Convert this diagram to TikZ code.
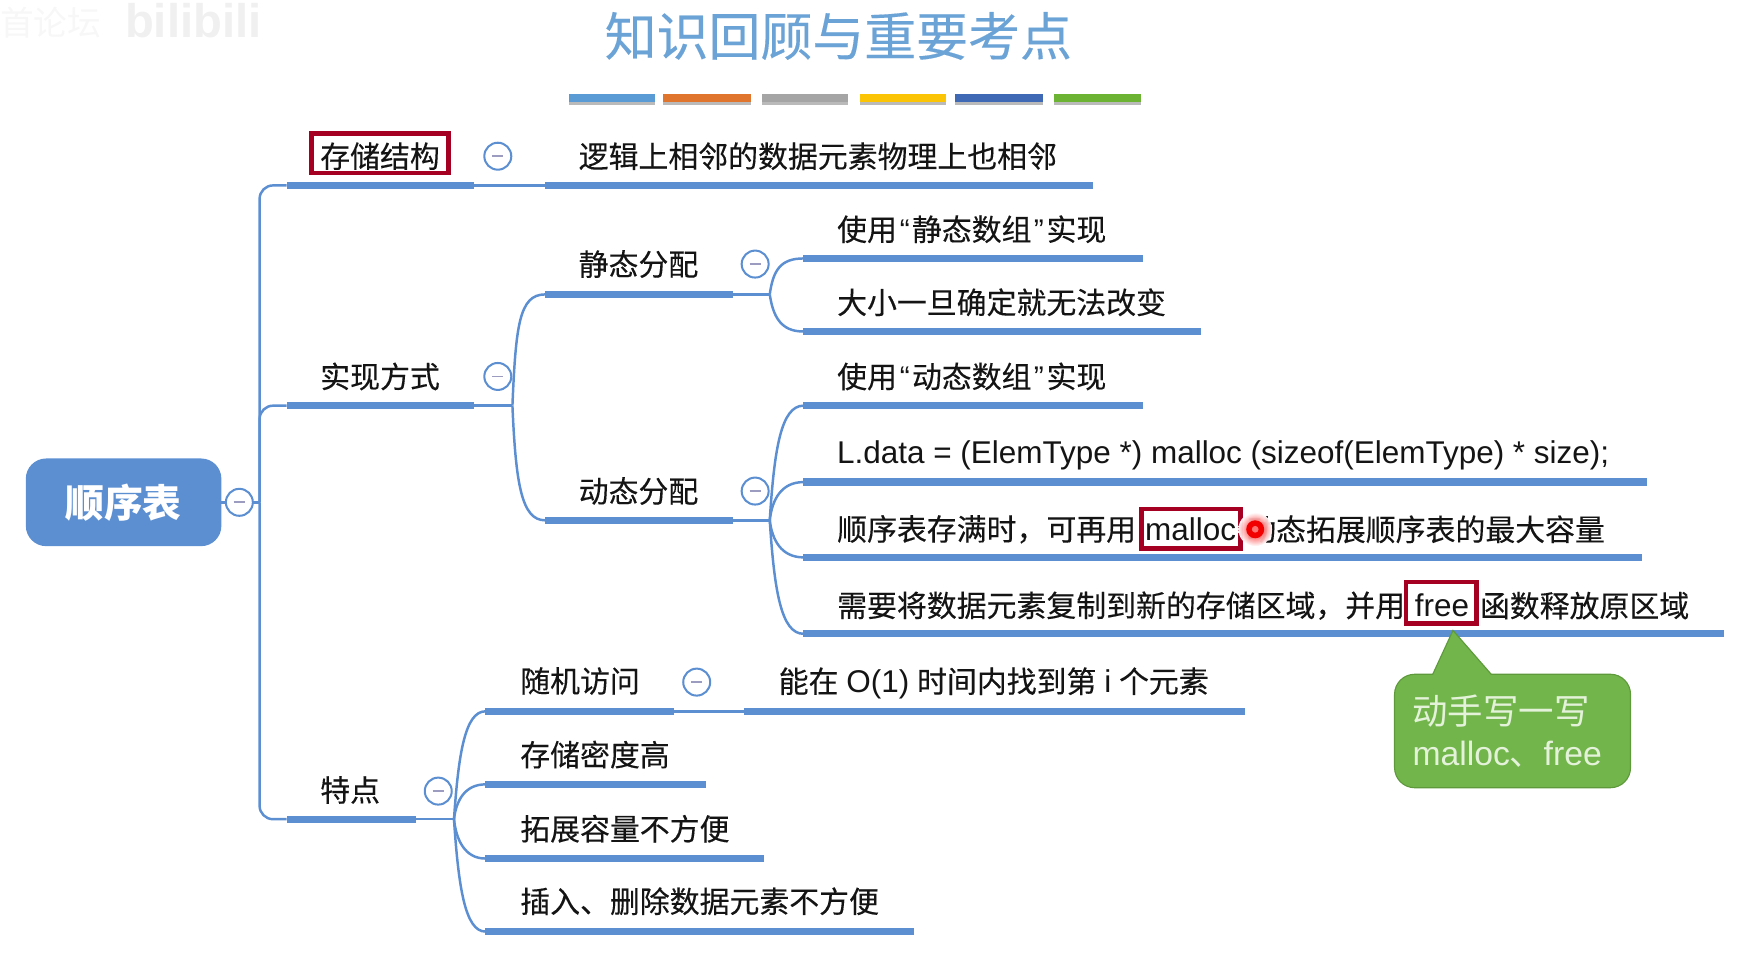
\documentclass[tikz,border=0pt]{standalone}
\usepackage{fontspec}
\setmainfont{Noto Sans CJK SC}
\newfontfamily\emb[FakeBold=0.25]{Noto Sans CJK SC}
\newfontfamily\lat{Liberation Sans}
\usetikzlibrary{shadows,calc,shapes.misc}
\definecolor{mapblue}{HTML}{5B8FD2}
\definecolor{titleblue}{HTML}{6BA3D6}
\definecolor{boxred}{HTML}{A50021}
\definecolor{callgreen}{HTML}{72B54B}
\definecolor{callline}{HTML}{5E9A3C}
\definecolor{callfg}{HTML}{E4F2DA}
\definecolor{minusgrey}{HTML}{9C9CC0}
\definecolor{tone}{HTML}{5B9BD5}
\definecolor{ttwo}{HTML}{E0762E}
\definecolor{tthree}{HTML}{A5A5A5}
\definecolor{tfour}{HTML}{FBC405}
\definecolor{tfive}{HTML}{3F69B5}
\definecolor{tsix}{HTML}{6CB334}
\newcommand{\latsz}{\lat\fontsize{28}{28}\selectfont}
\tikzset{
  x=1pt,y=-1pt,
  lab/.style={anchor=west,inner sep=0pt,outer sep=0pt,font=\emb\fontsize{26.6}{26.6}\selectfont,text=black!92},
  callab/.style={anchor=west,inner sep=0pt,outer sep=0pt,text=callfg},
  barbox/.style={fill=mapblue,draw=none,inner sep=0pt,outer sep=0pt,minimum height=6.5pt},
  tile/.style={fill=#1,draw=none,inner sep=0pt,outer sep=0pt,minimum height=7.5pt,minimum width=77pt,
     drop shadow={shadow xshift=0pt,shadow yshift=-3pt,fill=black!45,opacity=.6}},
  link/.style={draw=mapblue,line width=2.2pt},
  redbox/.style={draw=boxred,line width=4pt,fill=none,inner sep=0pt,outer sep=0pt},
  collapse/.style={circle,draw=mapblue,fill=white,line width=1.8pt,minimum size=24pt,inner sep=0pt,outer sep=0pt},
}
\newcommand{\mapbar}[4]{\node[barbox,minimum width={#3-#2}] (#1) at ({(#2+#3)/2},#4) {};}
\newcommand{\collapser}[3]{\node[collapse] (#1) at (#2,#3) {};
  \draw[minusgrey,line width=1.6pt] ($(#1.center)+(-5,0)$) -- ($(#1.center)+(5,0)$);}
\newcommand{\openq}{\kern2.5pt{\lat “}\kern2pt}
\newcommand{\closeq}{\kern2pt{\lat ”}\kern2.5pt}
\begin{document}
\begin{tikzpicture}
\useasboundingbox (0,0) rectangle (1568,851.6);
% watermark
\node[inner sep=0pt,text=black!3,font=\fontsize{30}{30}\selectfont] (wmA) at (45,20) {首论坛};
\node[inner sep=0pt,text=black!6,font=\lat\bfseries\fontsize{42}{42}\selectfont] (wmB) at (172,18) {bilibili};
% title
\node[inner sep=0pt,text=titleblue,font=\emb\fontsize{46.2}{46.2}\selectfont] (title) at (746,32) {知识回顾与重要考点};
\node[tile=tone]  (t1) at (544.5,87) {};
\node[tile=ttwo,minimum width=78pt]  (t2) at (629,87) {};
\node[tile=tthree] (t3) at (716.5,87) {};
\node[tile=tfour] (t4) at (803.5,87) {};
\node[tile=tfive,minimum width=78pt] (t5) at (889,87) {};
\node[tile=tsix]  (t6) at (976.5,87) {};
% bars
\mapbar{bStore}{255}{422}{165}
\mapbar{bImpl}{255}{422}{361}
\mapbar{bFeat}{255}{370}{729}
\mapbar{bLogic}{485}{973}{165}
\mapbar{bStatic}{485}{652}{262}
\mapbar{bDyn}{485}{652}{463}
\mapbar{bS1}{715}{1017}{230}
\mapbar{bS2}{715}{1069}{295}
\mapbar{bD1}{715}{1017}{361}
\mapbar{bD2}{715}{1466}{429}
\mapbar{bD3}{715}{1461}{496}
\mapbar{bD4}{715}{1534}{564}
\mapbar{bRand}{432}{600}{633}
\mapbar{bRandT}{662}{1108}{633}
\mapbar{bF2}{432}{628}{698}
\mapbar{bF3}{432}{680}{764}
\mapbar{bF4}{432}{813}{829}
% root
\node[fill=mapblue,rounded corners=18pt,minimum width=174pt,minimum height=78pt,inner sep=0pt,outer sep=0pt,text=white,font=\bfseries\fontsize{34.5}{34.5}\selectfont] (root) at (110,447) {顺序表};
% hubs
\coordinate (hTrunk) at (231,447);
\coordinate (hImpl) at (456,361);
\coordinate (hStatic) at (685,262);
\coordinate (hDyn) at (685,463);
\coordinate (hFeat) at (404,729);
% connectors
\draw[link] (root.east) -- (hTrunk);
\draw[link,rounded corners=12pt] (bStore.west) -| (hTrunk);
\draw[link,rounded corners=12pt] (bFeat.west) -| (hTrunk);
\draw[link,rounded corners=12pt] (bImpl.west) -| (hTrunk);
\draw[link] (bStore.east) -- (bLogic.west);
\draw[link] (bImpl.east) -- (hImpl);
\draw[link] (hImpl) .. controls (459,290) and (462,262) .. (bStatic.west);
\draw[link] (hImpl) .. controls (459,430) and (464,463) .. (bDyn.west);
\draw[link] (bStatic.east) -- (hStatic);
\draw[link] (hStatic) .. controls (688,240) and (695,230) .. (bS1.west);
\draw[link] (hStatic) .. controls (688,282) and (695,295) .. (bS2.west);
\draw[link] (bDyn.east) -- (hDyn);
\draw[link] (hDyn) .. controls (689,400) and (695,361) .. (bD1.west);
\draw[link] (hDyn) .. controls (687,445) and (695,429) .. (bD2.west);
\draw[link] (hDyn) .. controls (687,480) and (695,496) .. (bD3.west);
\draw[link] (hDyn) .. controls (689,525) and (695,564) .. (bD4.west);
\draw[link] (bRand.east) -- (bRandT.west);
\draw[link] (bFeat.east) -- (hFeat);
\draw[link] (hFeat) .. controls (408,670) and (414,633) .. (bRand.west);
\draw[link] (hFeat) .. controls (406,712) and (414,698) .. (bF2.west);
\draw[link] (hFeat) .. controls (406,748) and (414,764) .. (bF3.west);
\draw[link] (hFeat) .. controls (408,790) and (414,829) .. (bF4.west);
% collapse marks
\collapser{cRoot}{213}{447}
\collapser{cStore}{443}{139}
\collapser{cImpl}{443}{335}
\collapser{cStatic}{672}{235}
\collapser{cDyn}{672}{437}
\collapser{cRand}{620}{607}
\collapser{cFeat}{390}{704}
% labels
\node[lab] (tStore) at (285,139) {存储结构};
\node[redbox,minimum width=122pt,minimum height=35pt] (rStore) at (338,136.5) {};
\node[lab] (tImpl) at (285,335) {实现方式};
\node[lab] (tFeat) at (285,703) {特点};
\node[lab] (tLogic) at (515,139) {逻辑上相邻的数据元素物理上也相邻};
\node[lab] (tStatic) at (515,235) {静态分配};
\node[lab] (tDyn) at (515,437) {动态分配};
\node[lab] (tS1) at (745,204) {使用\openq 静态数组\closeq 实现};
\node[lab] (tS2) at (745,269) {大小一旦确定就无法改变};
\node[lab] (tD1) at (745,335) {使用\openq 动态数组\closeq 实现};
\node[lab] (tD2) at (745,405) {\latsz L.data = (ElemType *) malloc (sizeof(ElemType) * size);};
\node[lab] (tD3a) at (745,471) {顺序表存满时，可再用};
\node[lab] (tD3b) at (1019,471) {\latsz malloc};
\node[redbox,minimum width=88pt,minimum height=35pt] (rMalloc) at (1060,470.5) {};
\node[lab] (tD3c) at (1109,471) {动态拓展顺序表的最大容量};
\node[lab] (tD4a) at (745,539) {需要将数据元素复制到新的存储区域，并用};
\node[lab] (tD4b) at (1259,539) {\latsz free};
\node[redbox,minimum width=63pt,minimum height=37pt] (rFree) at (1282.5,536.5) {};
\node[lab] (tD4c) at (1317,539) {函数释放原区域};
\node[lab] (tRand) at (463,606) {随机访问};
\node[lab] (tRandT) at (693,608) {能在\kern1pt{} {\latsz O(1)} \kern1pt 时间内找到第\kern1pt{} {\latsz i} \kern1pt 个元素};
\node[lab] (tF2) at (463,671.5) {存储密度高};
\node[lab] (tF3) at (463,737.5) {拓展容量不方便};
\node[lab] (tF4) at (463,802) {插入、删除数据元素不方便};
% laser dot
\shade[inner color=red,outer color=white,opacity=.95] (1117,471) circle (15);
\fill[red!95!black] (1117,471) circle (8);
\fill[white!45!red] (1117,471) circle (3);
% callout
\draw[fill=callgreen,draw=callline,line width=1pt]
  (1275,600) -- (1259,600) .. controls (1249,600) and (1241,608) .. (1241,618)
  -- (1241,683) .. controls (1241,693) and (1249,701) .. (1259,701)
  -- (1433,701) .. controls (1443,701) and (1451,693) .. (1451,683)
  -- (1451,618) .. controls (1451,608) and (1443,600) .. (1433,600)
  -- (1327,600) -- (1293,561) -- cycle;
\node[callab,font=\fontsize{31.5}{31.5}\selectfont] (tCallA) at (1257,633) {动手写一写};
\node[callab,font=\lat\fontsize{30}{30}\selectfont] (tCallB) at (1257,671) {malloc{\rmfamily 、}free};
\end{tikzpicture}
\end{document}
